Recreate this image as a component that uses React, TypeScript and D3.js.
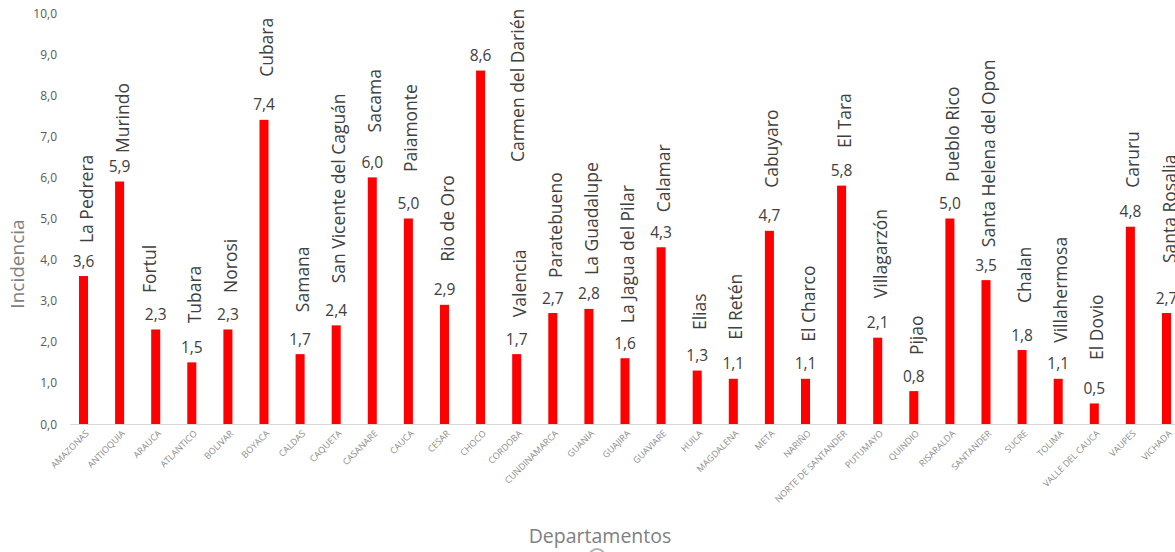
import React from "react";
import * as d3 from "d3";

// Departamentos (eje x)
const departamentos = [
  "AMAZONAS", "ANTIOQUIA", "ARAUCA", "ATLANTICO", "BOLIVAR", "BOYACA", "CALDAS",
  "CAQUETA", "CASANARE", "CAUCA", "CESAR", "CHOCO", "CORDOBA", "CUNDINAMARCA",
  "GUANIA", "GUAJIRA", "GUAVIARE", "HUILA", "MAGDALENA", "META", "NARIÑO",
  "NORTE DE SANTANDER", "PUTUMAYO", "QUINDIO", "RISARALDA", "SANTANDER", "SUCRE",
  "TOLIMA", "VALLE DEL CAUCA", "VAUPES", "VICHADA",
];

// Municipio con mayor incidencia en cada departamento
const municipios = [
  "La Pedrera", "Murindo", "Fortul", "Tubara", "Norosi", "Cubara", "Samana",
  "San Vicente del Caguán", "Sacama", "Paiamonte", "Rio de Oro", "Carmen del Darién",
  "Valencia", "Paratebueno", "La Guadalupe", "La Jagua del Pilar", "Calamar", "Elias",
  "El Retén", "Cabuyaro", "El Charco", "El Tara", "Villagarzón", "Pijao", "Pueblo Rico",
  "Santa Helena del Opon", "Chalan", "Villahermosa", "El Dovio", "Caruru", "Santa Rosalia",
];

// Incidencia
const incidencia = [
  3.6, 5.9, 2.3, 1.5, 2.3, 7.4, 1.7, 2.4, 6.0, 5.0, 2.9, 8.6, 1.7, 2.7, 2.8, 1.6,
  4.3, 1.3, 1.1, 4.7, 1.1, 5.8, 2.1, 0.8, 5.0, 3.5, 1.8, 1.1, 0.5, 4.8, 2.7,
];

const yTicks = [0, 1, 2, 3, 4, 5, 6, 7, 8, 9, 10];

// Hand-placed municipality labels: gap (px) between bar top and label start
const nameGap = [
  33, 28.5, 36.5, 39, 36.5, 43, 42, 42, 45, 46.5, 43, -91.5, 37, 35, 34, 35,
  35, 40.5, 39, 43, 37, 37.5, 39.5, 36, 36.5, 33, 47, 36, 43.5, 39, 50,
];
// Horizontal nudges (px) for labels moved off their bar
const nameShift: Record<string, number> = { "Fortul": -9, "Carmen del Darién": 34 };

const W = 1175;
const H = 552;
const FONT = "'Open Sans', 'DejaVu Sans', sans-serif";

const fmt = (v: number) => v.toFixed(1).replace(".", ",");

export default function App() {
  const x = d3
    .scaleBand<string>()
    .domain(departamentos)
    .range([65.45, 1184.55])
    .paddingInner(0.75)
    .paddingOuter(0.375);
  const y = d3.scaleLinear().domain([0, 10]).range([424, 13]);
  const bw = x.bandwidth();

  return (
    <svg
      width={W}
      height={H}
      style={{ position: "absolute", left: 0, top: 0, background: "#fff" }}
      fontFamily={FONT}
    >
      {/* y axis tick labels */}
      {yTicks.map((t) => (
        <text
          key={t}
          x={57}
          y={y(t)}
          textAnchor="end"
          dominantBaseline="central"
          fontSize={12}
          fill="#595959"
        >
          {fmt(t)}
        </text>
      ))}

      {/* y axis title */}
      <text
        transform={`translate(17, ${264}) rotate(-90)`}
        textAnchor="middle"
        dominantBaseline="central"
        fontSize={19}
        fill="#808080"
      >
        Incidencia
      </text>

      {/* bars */}
      {departamentos.map((d, i) => (
        <rect
          key={d}
          x={x(d)!}
          y={y(incidencia[i])}
          width={bw}
          height={y(0) - y(incidencia[i])}
          fill="#ff0000"
        />
      ))}

      {/* baseline */}
      <line x1={70} x2={W} y1={424.5} y2={424.5} stroke="#d9d9d9" strokeWidth={1.2} />

      {/* value labels */}
      {departamentos.map((d, i) => (
        <text
          key={d}
          x={x(d)! + bw / 2}
          y={y(incidencia[i]) - 9.5}
          textAnchor="middle"
          fontSize={15.5}
          fill="#404040"
        >
          {fmt(incidencia[i])}
        </text>
      ))}

      {/* municipality labels */}
      {departamentos.map((d, i) => {
        const name = municipios[i];
        const cx = x(d)! + bw / 2 + 2 + (nameShift[name] ?? 0);
        const cy = y(incidencia[i]) - nameGap[i];
        return (
          <text
            key={d}
            transform={`translate(${cx}, ${cy}) rotate(-90)`}
            textAnchor="start"
            dominantBaseline="central"
            fontSize={17.5}
            fill="#404040"
          >
            {name}
          </text>
        );
      })}

      {/* department tick labels */}
      {departamentos.map((d) => (
        <text
          key={d}
          transform={`translate(${x(d)! + bw / 2 + 6}, 434) rotate(-45)`}
          textAnchor="end"
          fontSize={9}
          fill="#8c8c8c"
        >
          {d}
        </text>
      ))}

      {/* x axis title */}
      <text x={600} y={543} textAnchor="middle" fontSize={19.5} fill="#808080">
        Departamentos
      </text>
      <circle cx={597} cy={557} r={8} fill="none" stroke="#b0b0b0" strokeWidth={2} />
    </svg>
  );
}
